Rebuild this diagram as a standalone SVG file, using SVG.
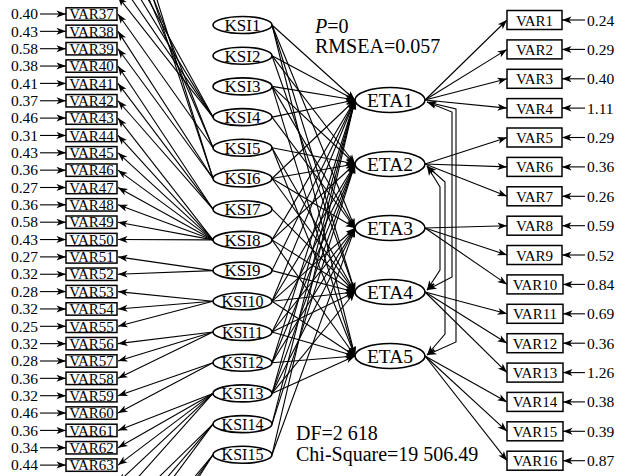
<svg xmlns="http://www.w3.org/2000/svg" width="627" height="476" viewBox="0 0 627 476">
<style>
text{font-family:"Liberation Serif","Times New Roman",serif;fill:#000}
.bx{fill:#fff;stroke:#000;stroke-width:1.5}
.el{fill:#fff;stroke:#000;stroke-width:1.6}
.c line,.c path{stroke:#000;stroke-width:1.1;fill:none;marker-end:url(#ah)}
.c .cv{marker-start:url(#ah)}
.vl{font-size:15px;text-anchor:middle}
.ks{font-size:17px;text-anchor:middle}
.ks2{font-size:16px;text-anchor:middle}
.et{font-size:19.5px;text-anchor:middle}
.nl{font-size:15.5px;text-anchor:end}
.nr{font-size:15.5px}
.st{font-size:20px}
</style>
<defs>
<marker id="ah" markerUnits="userSpaceOnUse" markerWidth="10" markerHeight="8" refX="9.5" refY="3.5" orient="auto-start-reverse" overflow="visible">
<path d="M0,0 L9.5,3.5 L0,7 L2.5,3.5 z" fill="#000"/>
</marker>
</defs>

<!-- connectors -->
<g id="connectors" class="c">
<!-- left error arrows -->
<line x1="40" y1="14" x2="66" y2="14"/>
<line x1="40" y1="31.35" x2="66" y2="31.35"/>
<line x1="40" y1="48.7" x2="66" y2="48.7"/>
<line x1="40" y1="66.05" x2="66" y2="66.05"/>
<line x1="40" y1="83.4" x2="66" y2="83.4"/>
<line x1="40" y1="100.75" x2="66" y2="100.75"/>
<line x1="40" y1="118.1" x2="66" y2="118.1"/>
<line x1="40" y1="135.45" x2="66" y2="135.45"/>
<line x1="40" y1="152.8" x2="66" y2="152.8"/>
<line x1="40" y1="170.15" x2="66" y2="170.15"/>
<line x1="40" y1="187.5" x2="66" y2="187.5"/>
<line x1="40" y1="204.85" x2="66" y2="204.85"/>
<line x1="40" y1="222.2" x2="66" y2="222.2"/>
<line x1="40" y1="239.55" x2="66" y2="239.55"/>
<line x1="40" y1="256.9" x2="66" y2="256.9"/>
<line x1="40" y1="274.25" x2="66" y2="274.25"/>
<line x1="40" y1="291.6" x2="66" y2="291.6"/>
<line x1="40" y1="308.95" x2="66" y2="308.95"/>
<line x1="40" y1="326.3" x2="66" y2="326.3"/>
<line x1="40" y1="343.65" x2="66" y2="343.65"/>
<line x1="40" y1="361" x2="66" y2="361"/>
<line x1="40" y1="378.35" x2="66" y2="378.35"/>
<line x1="40" y1="395.7" x2="66" y2="395.7"/>
<line x1="40" y1="413.05" x2="66" y2="413.05"/>
<line x1="40" y1="430.4" x2="66" y2="430.4"/>
<line x1="40" y1="447.75" x2="66" y2="447.75"/>
<line x1="40" y1="465.1" x2="66" y2="465.1"/>
<!-- right error arrows -->
<line x1="585" y1="20" x2="562" y2="20"/>
<line x1="585" y1="49.4" x2="562" y2="49.4"/>
<line x1="585" y1="78.8" x2="562" y2="78.8"/>
<line x1="585" y1="108.1" x2="562" y2="108.1"/>
<line x1="585" y1="137.5" x2="562" y2="137.5"/>
<line x1="585" y1="166.9" x2="562" y2="166.9"/>
<line x1="585" y1="196.3" x2="562" y2="196.3"/>
<line x1="585" y1="225.7" x2="562" y2="225.7"/>
<line x1="585" y1="255" x2="562" y2="255"/>
<line x1="585" y1="284.4" x2="563" y2="284.4"/>
<line x1="585" y1="313.8" x2="563" y2="313.8"/>
<line x1="585" y1="343.2" x2="563" y2="343.2"/>
<line x1="585" y1="372.6" x2="563" y2="372.6"/>
<line x1="585" y1="401.9" x2="563" y2="401.9"/>
<line x1="585" y1="431.3" x2="563" y2="431.3"/>
<line x1="585" y1="460.7" x2="563" y2="460.7"/>
<!-- ETA loadings -->
<line x1="425" y1="100" x2="507" y2="20"/>
<line x1="425" y1="100" x2="507" y2="49.4"/>
<line x1="425" y1="100" x2="507" y2="78.8"/>
<line x1="425" y1="100" x2="507" y2="108.1"/>
<line x1="425" y1="164" x2="507" y2="137.5"/>
<line x1="425" y1="164" x2="507" y2="166.9"/>
<line x1="425" y1="164" x2="507" y2="196.3"/>
<line x1="425" y1="228" x2="507" y2="225.7"/>
<line x1="425" y1="228" x2="507" y2="255"/>
<line x1="425" y1="228" x2="507" y2="284.4"/>
<line x1="425" y1="292" x2="507" y2="313.8"/>
<line x1="425" y1="292" x2="507" y2="343.2"/>
<line x1="425" y1="292" x2="507" y2="372.6"/>
<line x1="425" y1="356" x2="507" y2="401.9"/>
<line x1="425" y1="356" x2="507" y2="431.3"/>
<line x1="425" y1="356" x2="507" y2="460.7"/>
<!-- ETA covariances -->
<path class="cv" d="M427,102 L452,112 L452,277 L427,290"/>
<path class="cv" d="M427,102 L456,109 L456,342 L427,355"/>
<path class="cv" d="M427,166 L440,187 L440,270 L427,290"/>
<path class="cv" d="M427,166 L445,182 L445,334 L427,355"/>
<!-- KSI loadings (left) -->
<line x1="213" y1="117.1" x2="118" y2="-55.4"/>
<line x1="213" y1="117.1" x2="118" y2="-38.05"/>
<line x1="213" y1="117.1" x2="118" y2="-20.7"/>
<line x1="213" y1="117.1" x2="118" y2="-3.35"/>
<line x1="213" y1="147.8" x2="118" y2="-90.1"/>
<line x1="213" y1="147.8" x2="118" y2="-72.75"/>
<line x1="213" y1="147.8" x2="118" y2="14"/>
<line x1="213" y1="178.5" x2="118" y2="-124.8"/>
<line x1="213" y1="178.5" x2="118" y2="-107.45"/>
<line x1="213" y1="178.5" x2="118" y2="31.35"/>
<line x1="213" y1="178.5" x2="118" y2="48.7"/>
<line x1="213" y1="209.2" x2="118" y2="66.05"/>
<line x1="213" y1="209.2" x2="118" y2="83.4"/>
<line x1="213" y1="209.2" x2="118" y2="100.75"/>
<line x1="213" y1="239.9" x2="118" y2="118.1"/>
<line x1="213" y1="239.9" x2="118" y2="135.45"/>
<line x1="213" y1="239.9" x2="118" y2="152.8"/>
<line x1="213" y1="239.9" x2="118" y2="170.15"/>
<line x1="213" y1="239.9" x2="118" y2="187.5"/>
<line x1="213" y1="239.9" x2="118" y2="204.85"/>
<line x1="213" y1="239.9" x2="118" y2="222.2"/>
<line x1="213" y1="239.9" x2="118" y2="239.55"/>
<line x1="213" y1="270.6" x2="118" y2="256.9"/>
<line x1="213" y1="270.6" x2="118" y2="274.25"/>
<line x1="213" y1="301.3" x2="118" y2="291.6"/>
<line x1="213" y1="301.3" x2="118" y2="308.95"/>
<line x1="213" y1="301.3" x2="118" y2="326.3"/>
<line x1="213" y1="332" x2="118" y2="343.65"/>
<line x1="213" y1="332" x2="118" y2="361"/>
<line x1="213" y1="332" x2="118" y2="378.35"/>
<line x1="213" y1="362.7" x2="118" y2="395.7"/>
<line x1="213" y1="362.7" x2="118" y2="413.05"/>
<line x1="213" y1="393.4" x2="118" y2="430.4"/>
<line x1="213" y1="393.4" x2="118" y2="447.75"/>
<line x1="213" y1="393.4" x2="118" y2="465.1"/>
<line x1="213" y1="393.4" x2="118" y2="482.45"/>
<line x1="213" y1="393.4" x2="118" y2="499.8"/>
<line x1="213" y1="424.1" x2="118" y2="517.15"/>
<line x1="213" y1="424.1" x2="118" y2="534.5"/>
<line x1="213" y1="424.1" x2="118" y2="551.85"/>
<line x1="213" y1="454.8" x2="118" y2="569.2"/>
<line x1="213" y1="454.8" x2="118" y2="586.55"/>
<line x1="213" y1="454.8" x2="118" y2="603.9"/>
<!-- structural paths KSI to ETA -->
<line x1="272" y1="25" x2="355" y2="100"/>
<line x1="272" y1="25" x2="355" y2="228"/>
<line x1="272" y1="25" x2="355" y2="292"/>
<line x1="272" y1="25" x2="355" y2="356"/>
<line x1="272" y1="55.7" x2="355" y2="100"/>
<line x1="272" y1="55.7" x2="355" y2="164"/>
<line x1="272" y1="55.7" x2="355" y2="292"/>
<line x1="272" y1="86.4" x2="355" y2="100"/>
<line x1="272" y1="86.4" x2="355" y2="164"/>
<line x1="272" y1="86.4" x2="355" y2="228"/>
<line x1="272" y1="86.4" x2="355" y2="356"/>
<line x1="272" y1="117.1" x2="355" y2="100"/>
<line x1="272" y1="117.1" x2="355" y2="228"/>
<line x1="272" y1="147.8" x2="355" y2="164"/>
<line x1="272" y1="147.8" x2="355" y2="292"/>
<line x1="272" y1="147.8" x2="355" y2="356"/>
<line x1="272" y1="178.5" x2="355" y2="100"/>
<line x1="272" y1="178.5" x2="355" y2="164"/>
<line x1="272" y1="178.5" x2="355" y2="228"/>
<line x1="272" y1="178.5" x2="355" y2="292"/>
<line x1="272" y1="209.2" x2="355" y2="292"/>
<line x1="272" y1="239.9" x2="355" y2="100"/>
<line x1="272" y1="239.9" x2="355" y2="164"/>
<line x1="272" y1="239.9" x2="355" y2="292"/>
<line x1="272" y1="239.9" x2="355" y2="356"/>
<line x1="272" y1="270.6" x2="355" y2="100"/>
<line x1="272" y1="270.6" x2="355" y2="292"/>
<line x1="272" y1="301.3" x2="355" y2="100"/>
<line x1="272" y1="301.3" x2="355" y2="164"/>
<line x1="272" y1="301.3" x2="355" y2="228"/>
<line x1="272" y1="301.3" x2="355" y2="292"/>
<line x1="272" y1="301.3" x2="355" y2="356"/>
<line x1="272" y1="332" x2="355" y2="164"/>
<line x1="272" y1="332" x2="355" y2="228"/>
<line x1="272" y1="332" x2="355" y2="292"/>
<line x1="272" y1="332" x2="355" y2="356"/>
<line x1="272" y1="362.7" x2="355" y2="100"/>
<line x1="272" y1="362.7" x2="355" y2="164"/>
<line x1="272" y1="362.7" x2="355" y2="228"/>
<line x1="272" y1="362.7" x2="355" y2="356"/>
<line x1="272" y1="393.4" x2="355" y2="100"/>
<line x1="272" y1="393.4" x2="355" y2="164"/>
<line x1="272" y1="393.4" x2="355" y2="228"/>
<line x1="272" y1="393.4" x2="355" y2="292"/>
<line x1="272" y1="393.4" x2="355" y2="356"/>
<line x1="272" y1="424.1" x2="355" y2="100"/>
<line x1="272" y1="424.1" x2="355" y2="164"/>
<line x1="272" y1="454.8" x2="355" y2="100"/>
<line x1="272" y1="454.8" x2="355" y2="228"/>
</g>

<!-- latent exogenous variables -->
<g id="KSI1"><ellipse class="el" cx="242.5" cy="25" rx="29.5" ry="8.5"/><text class="ks" x="242.5" y="30.8">KSI1</text></g>
<g id="KSI2"><ellipse class="el" cx="242.5" cy="55.7" rx="29.5" ry="8.5"/><text class="ks" x="242.5" y="61.5">KSI2</text></g>
<g id="KSI3"><ellipse class="el" cx="242.5" cy="86.4" rx="29.5" ry="8.5"/><text class="ks" x="242.5" y="92.2">KSI3</text></g>
<g id="KSI4"><ellipse class="el" cx="242.5" cy="117.1" rx="29.5" ry="8.5"/><text class="ks" x="242.5" y="122.9">KSI4</text></g>
<g id="KSI5"><ellipse class="el" cx="242.5" cy="147.8" rx="29.5" ry="8.5"/><text class="ks" x="242.5" y="153.6">KSI5</text></g>
<g id="KSI6"><ellipse class="el" cx="242.5" cy="178.5" rx="29.5" ry="8.5"/><text class="ks" x="242.5" y="184.3">KSI6</text></g>
<g id="KSI7"><ellipse class="el" cx="242.5" cy="209.2" rx="29.5" ry="8.5"/><text class="ks" x="242.5" y="215">KSI7</text></g>
<g id="KSI8"><ellipse class="el" cx="242.5" cy="239.9" rx="29.5" ry="8.5"/><text class="ks" x="242.5" y="245.7">KSI8</text></g>
<g id="KSI9"><ellipse class="el" cx="242.5" cy="270.6" rx="29.5" ry="8.5"/><text class="ks" x="242.5" y="276.4">KSI9</text></g>
<g id="KSI10"><ellipse class="el" cx="242.5" cy="301.3" rx="29.5" ry="8.5"/><text class="ks2" x="242.5" y="306.8">KSI10</text></g>
<g id="KSI11"><ellipse class="el" cx="242.5" cy="332" rx="29.5" ry="8.5"/><text class="ks2" x="242.5" y="337.5">KSI11</text></g>
<g id="KSI12"><ellipse class="el" cx="242.5" cy="362.7" rx="29.5" ry="8.5"/><text class="ks2" x="242.5" y="368.2">KSI12</text></g>
<g id="KSI13"><ellipse class="el" cx="242.5" cy="393.4" rx="29.5" ry="8.5"/><text class="ks2" x="242.5" y="398.9">KSI13</text></g>
<g id="KSI14"><ellipse class="el" cx="242.5" cy="424.1" rx="29.5" ry="8.5"/><text class="ks2" x="242.5" y="429.6">KSI14</text></g>
<g id="KSI15"><ellipse class="el" cx="242.5" cy="454.8" rx="29.5" ry="8.5"/><text class="ks2" x="242.5" y="460.3">KSI15</text></g>

<!-- latent endogenous variables -->
<g id="ETA1"><ellipse class="el" cx="390" cy="100" rx="35" ry="12.5"/><text class="et" x="390" y="107">ETA1</text></g>
<g id="ETA2"><ellipse class="el" cx="390" cy="164" rx="35" ry="12.5"/><text class="et" x="390" y="171">ETA2</text></g>
<g id="ETA3"><ellipse class="el" cx="390" cy="228" rx="35" ry="12.5"/><text class="et" x="390" y="235">ETA3</text></g>
<g id="ETA4"><ellipse class="el" cx="390" cy="292" rx="35" ry="12.5"/><text class="et" x="390" y="299">ETA4</text></g>
<g id="ETA5"><ellipse class="el" cx="390" cy="356" rx="35" ry="12.5"/><text class="et" x="390" y="363">ETA5</text></g>

<!-- observed indicators, left column -->
<g id="VAR37"><rect class="bx" x="66" y="7.8" width="51" height="12.4"/><text class="vl" x="91.5" y="19.2">VAR37</text><text class="nl" x="38" y="19.2">0.40</text></g>
<g id="VAR38"><rect class="bx" x="66" y="25.15" width="51" height="12.4"/><text class="vl" x="91.5" y="36.55">VAR38</text><text class="nl" x="38" y="36.55">0.43</text></g>
<g id="VAR39"><rect class="bx" x="66" y="42.5" width="51" height="12.4"/><text class="vl" x="91.5" y="53.9">VAR39</text><text class="nl" x="38" y="53.9">0.58</text></g>
<g id="VAR40"><rect class="bx" x="66" y="59.85" width="51" height="12.4"/><text class="vl" x="91.5" y="71.25">VAR40</text><text class="nl" x="38" y="71.25">0.38</text></g>
<g id="VAR41"><rect class="bx" x="66" y="77.2" width="51" height="12.4"/><text class="vl" x="91.5" y="88.6">VAR41</text><text class="nl" x="38" y="88.6">0.41</text></g>
<g id="VAR42"><rect class="bx" x="66" y="94.55" width="51" height="12.4"/><text class="vl" x="91.5" y="105.95">VAR42</text><text class="nl" x="38" y="105.95">0.37</text></g>
<g id="VAR43"><rect class="bx" x="66" y="111.9" width="51" height="12.4"/><text class="vl" x="91.5" y="123.3">VAR43</text><text class="nl" x="38" y="123.3">0.46</text></g>
<g id="VAR44"><rect class="bx" x="66" y="129.25" width="51" height="12.4"/><text class="vl" x="91.5" y="140.65">VAR44</text><text class="nl" x="38" y="140.65">0.31</text></g>
<g id="VAR45"><rect class="bx" x="66" y="146.6" width="51" height="12.4"/><text class="vl" x="91.5" y="158">VAR45</text><text class="nl" x="38" y="158">0.43</text></g>
<g id="VAR46"><rect class="bx" x="66" y="163.95" width="51" height="12.4"/><text class="vl" x="91.5" y="175.35">VAR46</text><text class="nl" x="38" y="175.35">0.36</text></g>
<g id="VAR47"><rect class="bx" x="66" y="181.3" width="51" height="12.4"/><text class="vl" x="91.5" y="192.7">VAR47</text><text class="nl" x="38" y="192.7">0.27</text></g>
<g id="VAR48"><rect class="bx" x="66" y="198.65" width="51" height="12.4"/><text class="vl" x="91.5" y="210.05">VAR48</text><text class="nl" x="38" y="210.05">0.36</text></g>
<g id="VAR49"><rect class="bx" x="66" y="216" width="51" height="12.4"/><text class="vl" x="91.5" y="227.4">VAR49</text><text class="nl" x="38" y="227.4">0.58</text></g>
<g id="VAR50"><rect class="bx" x="66" y="233.35" width="51" height="12.4"/><text class="vl" x="91.5" y="244.75">VAR50</text><text class="nl" x="38" y="244.75">0.43</text></g>
<g id="VAR51"><rect class="bx" x="66" y="250.7" width="51" height="12.4"/><text class="vl" x="91.5" y="262.1">VAR51</text><text class="nl" x="38" y="262.1">0.27</text></g>
<g id="VAR52"><rect class="bx" x="66" y="268.05" width="51" height="12.4"/><text class="vl" x="91.5" y="279.45">VAR52</text><text class="nl" x="38" y="279.45">0.32</text></g>
<g id="VAR53"><rect class="bx" x="66" y="285.4" width="51" height="12.4"/><text class="vl" x="91.5" y="296.8">VAR53</text><text class="nl" x="38" y="296.8">0.28</text></g>
<g id="VAR54"><rect class="bx" x="66" y="302.75" width="51" height="12.4"/><text class="vl" x="91.5" y="314.15">VAR54</text><text class="nl" x="38" y="314.15">0.32</text></g>
<g id="VAR55"><rect class="bx" x="66" y="320.1" width="51" height="12.4"/><text class="vl" x="91.5" y="331.5">VAR55</text><text class="nl" x="38" y="331.5">0.25</text></g>
<g id="VAR56"><rect class="bx" x="66" y="337.45" width="51" height="12.4"/><text class="vl" x="91.5" y="348.85">VAR56</text><text class="nl" x="38" y="348.85">0.32</text></g>
<g id="VAR57"><rect class="bx" x="66" y="354.8" width="51" height="12.4"/><text class="vl" x="91.5" y="366.2">VAR57</text><text class="nl" x="38" y="366.2">0.28</text></g>
<g id="VAR58"><rect class="bx" x="66" y="372.15" width="51" height="12.4"/><text class="vl" x="91.5" y="383.55">VAR58</text><text class="nl" x="38" y="383.55">0.36</text></g>
<g id="VAR59"><rect class="bx" x="66" y="389.5" width="51" height="12.4"/><text class="vl" x="91.5" y="400.9">VAR59</text><text class="nl" x="38" y="400.9">0.32</text></g>
<g id="VAR60"><rect class="bx" x="66" y="406.85" width="51" height="12.4"/><text class="vl" x="91.5" y="418.25">VAR60</text><text class="nl" x="38" y="418.25">0.46</text></g>
<g id="VAR61"><rect class="bx" x="66" y="424.2" width="51" height="12.4"/><text class="vl" x="91.5" y="435.6">VAR61</text><text class="nl" x="38" y="435.6">0.36</text></g>
<g id="VAR62"><rect class="bx" x="66" y="441.55" width="51" height="12.4"/><text class="vl" x="91.5" y="452.95">VAR62</text><text class="nl" x="38" y="452.95">0.34</text></g>
<g id="VAR63"><rect class="bx" x="66" y="458.9" width="51" height="12.4"/><text class="vl" x="91.5" y="470.3">VAR63</text><text class="nl" x="38" y="470.3">0.44</text></g>

<!-- observed indicators, right column -->
<g id="VAR1"><rect class="bx" x="507" y="10.5" width="55" height="19"/><text class="vl" x="534.5" y="25.5">VAR1</text><text class="nr" x="587" y="25.5">0.24</text></g>
<g id="VAR2"><rect class="bx" x="507" y="39.9" width="55" height="19"/><text class="vl" x="534.5" y="54.9">VAR2</text><text class="nr" x="587" y="54.9">0.29</text></g>
<g id="VAR3"><rect class="bx" x="507" y="69.3" width="55" height="19"/><text class="vl" x="534.5" y="84.3">VAR3</text><text class="nr" x="587" y="84.3">0.40</text></g>
<g id="VAR4"><rect class="bx" x="507" y="98.6" width="55" height="19"/><text class="vl" x="534.5" y="113.6">VAR4</text><text class="nr" x="587" y="113.6">1.11</text></g>
<g id="VAR5"><rect class="bx" x="507" y="128" width="55" height="19"/><text class="vl" x="534.5" y="143">VAR5</text><text class="nr" x="587" y="143">0.29</text></g>
<g id="VAR6"><rect class="bx" x="507" y="157.4" width="55" height="19"/><text class="vl" x="534.5" y="172.4">VAR6</text><text class="nr" x="587" y="172.4">0.36</text></g>
<g id="VAR7"><rect class="bx" x="507" y="186.8" width="55" height="19"/><text class="vl" x="534.5" y="201.8">VAR7</text><text class="nr" x="587" y="201.8">0.26</text></g>
<g id="VAR8"><rect class="bx" x="507" y="216.2" width="55" height="19"/><text class="vl" x="534.5" y="231.2">VAR8</text><text class="nr" x="587" y="231.2">0.59</text></g>
<g id="VAR9"><rect class="bx" x="507" y="245.5" width="55" height="19"/><text class="vl" x="534.5" y="260.5">VAR9</text><text class="nr" x="587" y="260.5">0.52</text></g>
<g id="VAR10"><rect class="bx" x="507" y="274.9" width="56" height="19"/><text class="vl" x="535" y="289.9">VAR10</text><text class="nr" x="587" y="289.9">0.84</text></g>
<g id="VAR11"><rect class="bx" x="507" y="304.3" width="56" height="19"/><text class="vl" x="535" y="319.3">VAR11</text><text class="nr" x="587" y="319.3">0.69</text></g>
<g id="VAR12"><rect class="bx" x="507" y="333.7" width="56" height="19"/><text class="vl" x="535" y="348.7">VAR12</text><text class="nr" x="587" y="348.7">0.36</text></g>
<g id="VAR13"><rect class="bx" x="507" y="363.1" width="56" height="19"/><text class="vl" x="535" y="378.1">VAR13</text><text class="nr" x="587" y="378.1">1.26</text></g>
<g id="VAR14"><rect class="bx" x="507" y="392.4" width="56" height="19"/><text class="vl" x="535" y="407.4">VAR14</text><text class="nr" x="587" y="407.4">0.38</text></g>
<g id="VAR15"><rect class="bx" x="507" y="421.8" width="56" height="19"/><text class="vl" x="535" y="436.8">VAR15</text><text class="nr" x="587" y="436.8">0.39</text></g>
<g id="VAR16"><rect class="bx" x="507" y="451.2" width="56" height="19"/><text class="vl" x="535" y="466.2">VAR16</text><text class="nr" x="587" y="466.2">0.87</text></g>

<!-- fit statistics -->
<g id="fit-top"><text class="st" x="315" y="33"><tspan font-style="italic">P</tspan>=0</text><text class="st" x="315" y="53">RMSEA=0.057</text></g>
<g id="fit-bottom"><text class="st" x="296" y="440">DF=2 618</text><text class="st" x="296" y="461">Chi-Square=19 506.49</text></g>
</svg>
